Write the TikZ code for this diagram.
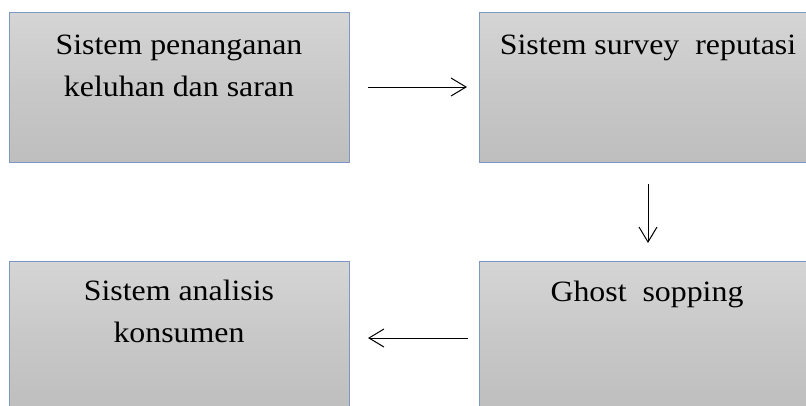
\documentclass[tikz,border=0pt]{standalone}
\usepackage{fontspec}
\setmainfont{Liberation Serif}[FakeStretch=1.08]
\usetikzlibrary{arrows.meta}
\begin{document}
\begin{tikzpicture}[x=1pt,y=-1pt,
  box/.style={draw=boxborder,line width=1.2pt,top color=boxtop,bottom color=boxbottom,middle color=boxmid,minimum width=340pt,minimum height=150pt,anchor=north west,inner sep=0pt},
  lbl/.style={font=\fontsize{29.5}{41.5}\selectfont,align=center,anchor=base},
  conn/.style={line width=1pt,-{Straight Barb[length=15pt,width=18pt,line width=1pt]}}]
\definecolor{boxborder}{RGB}{125,150,195}
\definecolor{boxtop}{RGB}{213,213,213}
\definecolor{boxmid}{RGB}{200,200,200}
\definecolor{boxbottom}{RGB}{190,190,190}
\useasboundingbox (0,0) rectangle (806,405);
\begin{scope}
\clip (0,0) rectangle (806,405);
\node[box] (b1) at (9,12) {};
\node[box] (b2) at (479,12) {};
\node[box] (b3) at (9,261) {};
\node[box] (b4) at (479,261) {};
\end{scope}
\node[lbl] (t1) at (179,96) {Sistem penanganan\\keluhan dan saran};
\node[lbl] (t2) at (648,54) {Sistem survey\ \ reputasi};
\node[lbl] (t3) at (179,342) {Sistem analisis\\konsumen};
\node[lbl] (t4) at (647,301) {Ghost\ \ sopping};
\coordinate (a1s) at (368,87);
\coordinate (a1e) at (467,87);
\coordinate (a2s) at (648,184);
\coordinate (a2e) at (648,243);
\coordinate (a3s) at (468,338);
\coordinate (a3e) at (368,338);
\draw[conn] (a1s) -- (a1e);
\draw[conn] (a2s) -- (a2e);
\draw[conn] (a3s) -- (a3e);
\end{tikzpicture}
\end{document}
